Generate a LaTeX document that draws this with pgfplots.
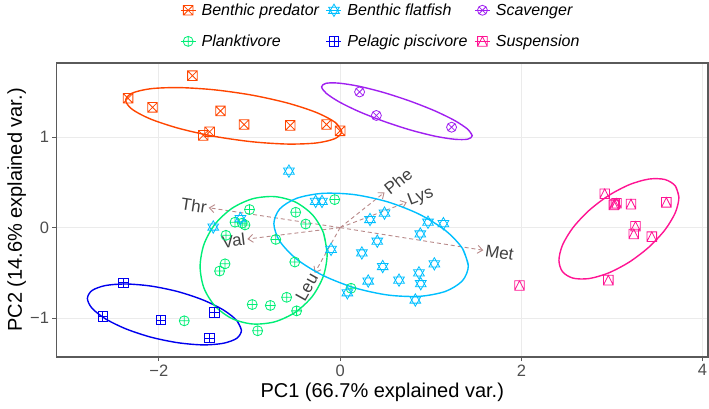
\documentclass[border=0pt]{standalone}
\usepackage{fontspec}
\setmainfont{Liberation Sans}
\usepackage{pgfplots}
\pgfplotsset{compat=1.18}
\usetikzlibrary{arrows.meta, plotmarks}

\definecolor{cBP}{HTML}{FF4500}
\definecolor{cBF}{HTML}{00BFFF}
\definecolor{cSC}{HTML}{A020F0}
\definecolor{cPL}{HTML}{00EE76}
\definecolor{cPP}{HTML}{0000EE}
\definecolor{cSU}{HTML}{FF1493}
\definecolor{arrowc}{HTML}{B88A8A}
\definecolor{gridc}{HTML}{EBEBEB}
\definecolor{framec}{HTML}{5A5A5A}
\definecolor{tickc}{HTML}{4D4D4D}
\definecolor{labc}{HTML}{404040}

\pgfdeclareplotmark{sqx}{%
 \pgfpathrectangle{\pgfqpoint{-\pgfplotmarksize}{-\pgfplotmarksize}}{\pgfqpoint{2\pgfplotmarksize}{2\pgfplotmarksize}}%
 \pgfpathmoveto{\pgfqpoint{-\pgfplotmarksize}{-\pgfplotmarksize}}%
 \pgfpathlineto{\pgfqpoint{\pgfplotmarksize}{\pgfplotmarksize}}%
 \pgfpathmoveto{\pgfqpoint{-\pgfplotmarksize}{\pgfplotmarksize}}%
 \pgfpathlineto{\pgfqpoint{\pgfplotmarksize}{-\pgfplotmarksize}}%
 \pgfusepathqstroke}
\pgfdeclareplotmark{sqplus}{%
 \pgfpathrectangle{\pgfqpoint{-\pgfplotmarksize}{-\pgfplotmarksize}}{\pgfqpoint{2\pgfplotmarksize}{2\pgfplotmarksize}}%
 \pgfpathmoveto{\pgfqpoint{-\pgfplotmarksize}{0pt}}%
 \pgfpathlineto{\pgfqpoint{\pgfplotmarksize}{0pt}}%
 \pgfpathmoveto{\pgfqpoint{0pt}{-\pgfplotmarksize}}%
 \pgfpathlineto{\pgfqpoint{0pt}{\pgfplotmarksize}}%
 \pgfusepathqstroke}
\pgfdeclareplotmark{sqtri}{%
 \pgfpathrectangle{\pgfqpoint{-\pgfplotmarksize}{-\pgfplotmarksize}}{\pgfqpoint{2\pgfplotmarksize}{2\pgfplotmarksize}}%
 \pgfpathmoveto{\pgfqpoint{-\pgfplotmarksize}{-\pgfplotmarksize}}%
 \pgfpathlineto{\pgfqpoint{0pt}{\pgfplotmarksize}}%
 \pgfpathlineto{\pgfqpoint{\pgfplotmarksize}{-\pgfplotmarksize}}%
 \pgfusepathqstroke}
\pgfdeclareplotmark{david}{%
 \pgfpathmoveto{\pgfqpoint{0pt}{\pgfplotmarksize}}%
 \pgfpathlineto{\pgfqpoint{0.866\pgfplotmarksize}{-0.5\pgfplotmarksize}}%
 \pgfpathlineto{\pgfqpoint{-0.866\pgfplotmarksize}{-0.5\pgfplotmarksize}}%
 \pgfpathclose
 \pgfpathmoveto{\pgfqpoint{0pt}{-\pgfplotmarksize}}%
 \pgfpathlineto{\pgfqpoint{0.866\pgfplotmarksize}{0.5\pgfplotmarksize}}%
 \pgfpathlineto{\pgfqpoint{-0.866\pgfplotmarksize}{0.5\pgfplotmarksize}}%
 \pgfpathclose
 \pgfusepathqstroke}

\tikzset{
 mBP/.style={mark=sqx, mark size=4.8pt, mark options={line width=0.8pt, solid}},
 mBF/.style={mark=david, mark size=6.2pt, mark options={line width=0.8pt, solid}},
 mSC/.style={mark=otimes, mark size=5pt, mark options={line width=0.8pt, solid}},
 mPL/.style={mark=oplus, mark size=5pt, mark options={line width=0.8pt, solid}},
 mPP/.style={mark=sqplus, mark size=4.8pt, mark options={line width=0.8pt, solid}},
 mSU/.style={mark=sqtri, mark size=4.8pt, mark options={line width=0.8pt, solid}},
 ell/.style={line width=1.4pt, smooth, mark=none},
 vec/.style={arrowc, line width=0.9pt, dash pattern=on 4pt off 3pt, -{Straight Barb[length=5pt,width=8pt]}},
 vlab/.style={inner xsep=2pt, inner ysep=0pt, font=\fontsize{17}{20}\selectfont, text=labc}
}

\begin{document}
\begin{tikzpicture}
\begin{axis}[
 at={(0,0)}, anchor=south west,
 scale only axis, width=651.5pt, height=294pt,
 xmin=-3.13, xmax=4.06, ymin=-1.43, ymax=1.82,
 xtick={-2,0,2,4}, xticklabels={−2,0,2,4},
 ytick={-1,0,1}, yticklabels={−1,0,1},
 tick pos=left, tick align=outside, major tick length=4pt,
 tick style={draw=framec, line width=1pt},
 axis line style={draw=framec, line width=1.1pt},
 grid=major, grid style={draw=gridc, line width=0.8pt},
 ticklabel style={font=\fontsize{16.5}{19}\selectfont, text=tickc},
 xlabel={PC1 (66.7\% explained var.)},
 ylabel={PC2 (14.6\% explained var.)},
 label style={font=\fontsize{20}{23}\selectfont},
 x label style={at={(axis description cs:0.5,-0.119)}, anchor=center},
 y label style={at={(axis description cs:-0.0611,0.5)}, anchor=center},
 legend columns=3,
 legend cell align=left,
 legend style={at={(0.1896,1.205)}, anchor=north west, draw=none, fill=none,
   inner sep=0pt, outer sep=0pt, font=\fontsize{16}{19}\selectfont\itshape,
   row sep=16pt, nodes={inner ysep=1pt, inner xsep=5.3pt},
   /tikz/every even column/.append style={column sep=1.5pt}},
 legend image code/.code={\draw[mark repeat=2,mark phase=2,#1] plot coordinates {(0pt,0pt) (7.5pt,0pt) (15pt,0pt)};},
]
% legend
\addlegendimage{cBP, line width=1.3pt, mBP}\addlegendentry{Benthic predator}
\addlegendimage{cBF, line width=1.3pt, mBF}\addlegendentry{Benthic flatfish}
\addlegendimage{cSC, line width=1.3pt, mSC}\addlegendentry{Scavenger}
\addlegendimage{cPL, line width=1.3pt, mPL}\addlegendentry{Planktivore}
\addlegendimage{cPP, line width=1.3pt, mPP}\addlegendentry{Pelagic piscivore}
\addlegendimage{cSU, line width=1.3pt, mSU}\addlegendentry{Suspension}

% variable vectors
\addplot[vec, forget plot] coordinates {(0,0) (-1.45,0.22)};
\addplot[vec, forget plot] coordinates {(0,0) (-1.024,-0.126)};
\addplot[vec, forget plot] coordinates {(0,0) (-0.28,-0.50)};
\addplot[vec, forget plot] coordinates {(0,0) (0.49,0.39)};
\addplot[vec, forget plot] coordinates {(0,0) (0.735,0.28)};
\addplot[vec, forget plot] coordinates {(0,0) (1.58,-0.25)};

% points
\addplot[only marks, cBP, mBP, forget plot] coordinates {
(-1.63,1.68) (-2.34,1.43) (-2.07,1.33) (-1.32,1.29) (-1.06,1.14)
(-1.44,1.06) (-1.51,1.02) (-0.55,1.13) (-0.15,1.14) (0.00,1.07)};
\addplot[only marks, cSC, mSC, forget plot] coordinates {
(0.215,1.50) (0.40,1.24) (1.23,1.11)};
\addplot[only marks, cPP, mPP, forget plot] coordinates {
(-2.39,-0.61) (-2.62,-0.98) (-1.98,-1.02) (-1.39,-0.94) (-1.44,-1.22)};
\addplot[only marks, cPL, mPL, forget plot] coordinates {
(-1.00,0.20) (-1.16,0.06) (-1.08,0.05) (-1.05,0.03) (-0.49,0.17)
(-0.38,0.04) (-1.26,-0.085) (-0.71,-0.13) (-1.27,-0.40) (-1.33,-0.48)
(-0.50,-0.38) (-0.59,-0.77) (-0.97,-0.85) (-0.77,-0.86) (-0.48,-0.92)
(-0.91,-1.14) (-0.06,0.31) (-1.72,-1.03) (0.12,-0.67)};
\addplot[only marks, cBF, mBF, forget plot] coordinates {
(-0.565,0.625) (-1.40,0.007) (-1.10,0.10) (-0.27,0.29) (-0.20,0.29)
(-0.10,-0.24) (0.08,-0.72) (0.33,0.09) (0.49,0.16) (0.41,-0.15)
(0.24,-0.28) (0.47,-0.43) (0.31,-0.59) (0.65,-0.58) (0.87,-0.50)
(0.89,-0.62) (1.04,-0.40) (0.83,-0.80) (0.97,0.06) (0.885,-0.07)
(1.14,0.044)};
\addplot[only marks, cSU, mSU, forget plot] coordinates {
(2.92,0.375) (3.02,0.25) (3.03,0.26) (3.05,0.27) (3.21,0.26)
(3.60,0.28) (3.26,0.015) (3.24,-0.07) (3.44,-0.10) (2.96,-0.58)
(1.98,-0.64)};

% ellipses
\addplot[cBP, ell, forget plot] coordinates {
(0.017,1.064) (-0.055,1.164) (-0.262,1.273) (-0.579,1.377) (-0.968,1.464)
(-1.382,1.523) (-1.771,1.548) (-2.088,1.536) (-2.295,1.487) (-2.367,1.408)
(-2.295,1.308) (-2.088,1.199) (-1.771,1.095) (-1.382,1.008) (-0.968,0.949)
(-0.579,0.924) (-0.262,0.936) (-0.055,0.985) (0.017,1.064) (-0.055,1.164)};
\addplot[cSC, ell, forget plot] coordinates {
(1.458,1.017) (1.408,1.088) (1.264,1.184) (1.043,1.292) (0.771,1.399)
(0.483,1.493) (0.211,1.562) (-0.010,1.597) (-0.154,1.596) (-0.204,1.557)
(-0.154,1.486) (-0.010,1.390) (0.211,1.282) (0.483,1.175) (0.771,1.081)
(1.043,1.012) (1.264,0.977) (1.408,0.978) (1.458,1.017) (1.408,1.088)};
\addplot[cPP, ell, forget plot] coordinates {
(-1.089,-1.135) (-1.140,-1.027) (-1.288,-0.910) (-1.514,-0.799) (-1.791,-0.707)
(-2.087,-0.646) (-2.364,-0.623) (-2.590,-0.640) (-2.738,-0.695) (-2.789,-0.783)
(-2.738,-0.891) (-2.590,-1.008) (-2.364,-1.119) (-2.087,-1.211) (-1.791,-1.272)
(-1.514,-1.296) (-1.288,-1.278) (-1.140,-1.223) (-1.089,-1.135) (-1.140,-1.027)};
\addplot[cPL, ell, forget plot] coordinates {
(-0.143,-0.292) (-0.185,-0.055) (-0.307,0.144) (-0.494,0.283) (-0.722,0.343)
(-0.966,0.319) (-1.194,0.213) (-1.381,0.038) (-1.503,-0.186) (-1.545,-0.431)
(-1.503,-0.667) (-1.381,-0.866) (-1.194,-1.005) (-0.966,-1.065) (-0.722,-1.041)
(-0.494,-0.935) (-0.307,-0.760) (-0.185,-0.536) (-0.143,-0.292) (-0.185,-0.055)};
\addplot[cBF, ell, forget plot] coordinates {
(1.415,-0.423) (1.350,-0.230) (1.164,-0.033) (0.878,0.146) (0.528,0.284)
(0.156,0.365) (-0.194,0.379) (-0.480,0.324) (-0.666,0.207) (-0.731,0.043)
(-0.666,-0.150) (-0.480,-0.348) (-0.194,-0.526) (0.156,-0.664) (0.528,-0.745)
(0.878,-0.759) (1.164,-0.704) (1.350,-0.587) (1.415,-0.423) (1.350,-0.230)};
\addplot[cSU, ell, forget plot] coordinates {
(3.739,0.335) (3.699,0.462) (3.584,0.532) (3.408,0.537) (3.192,0.475)
(2.962,0.354) (2.746,0.189) (2.570,0.000) (2.455,-0.191) (2.415,-0.361)
(2.455,-0.488) (2.570,-0.558) (2.746,-0.563) (2.962,-0.501) (3.192,-0.380)
(3.408,-0.215) (3.584,-0.026) (3.699,0.165) (3.739,0.335) (3.699,0.462)};

% variable labels
\node[vlab, rotate=-8.6, anchor=east] at (axis cs:-1.45,0.22) {Thr};
\node[vlab, rotate=7.0, anchor=east] at (axis cs:-1.024,-0.126) {Val};
\node[vlab, rotate=60.8, anchor=east] at (axis cs:-0.28,-0.50) {Leu};
\node[vlab, rotate=38.5, anchor=west] at (axis cs:0.49,0.39) {Phe};
\node[vlab, rotate=20.9, anchor=west] at (axis cs:0.735,0.28) {Lys};
\node[vlab, rotate=-9.0, anchor=west] at (axis cs:1.58,-0.25) {Met};
\end{axis}
\pgfresetboundingbox
\path[use as bounding box] (-56.5pt,-51pt) rectangle (652.5pt,357pt);
\end{tikzpicture}
\end{document}
